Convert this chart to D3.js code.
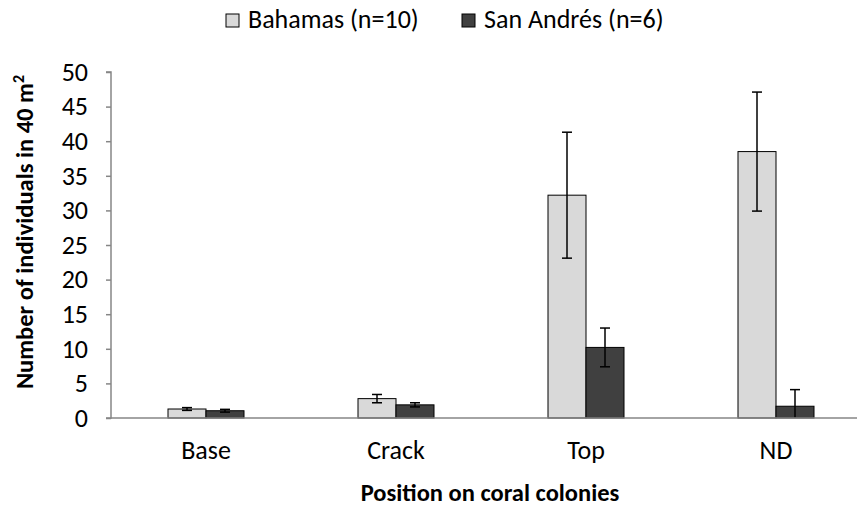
<!DOCTYPE html>
<html>
<head>
<meta charset="utf-8">
<script src="https://cdn.jsdelivr.net/npm/d3@7"></script>
<style>
  body { margin: 0; background: #fff; }
  text { font-family: Carlito, "Open Sans", "Liberation Sans", sans-serif; }
</style>
</head>
<body>
<script>
// chart data
const categories = ["Base", "Crack", "Top", "ND"];
const seriesNames = ["Bahamas (n=10)", "San Andrés (n=6)"];
const bahamas = [1.3, 2.8, 32.2, 38.5];
const bahamasErr = [0.2, 0.6, 9.1, 8.6];
const sanAndres = [1.05, 1.9, 10.2, 1.7];
const sanAndresErr = [0.2, 0.3, 2.8, 2.4];
const yTicks = [0, 5, 10, 15, 20, 25, 30, 35, 40, 45, 50];

const colors = ["#d9d9d9", "#404040"];
const font = "Carlito, 'Open Sans', 'Liberation Sans', sans-serif";

const width = 857, height = 508;
const margin = { top: 72, right: 0, bottom: 90, left: 111 };

const svg = d3.select("body")
  .append("svg")
  .attr("width", width)
  .attr("height", height);

const x = d3.scaleBand()
  .domain(categories)
  .range([margin.left, margin.left + 4 * 190])
  .paddingInner(0)
  .paddingOuter(0);

const y = d3.scaleLinear()
  .domain([0, 50])
  .range([418, margin.top]);

const barW = 38;

const rows = categories.map((c, i) => ({
  cat: c,
  vals: [
    { s: 0, v: bahamas[i], e: bahamasErr[i] },
    { s: 1, v: sanAndres[i], e: sanAndresErr[i] }
  ]
}));

// bars
const groups = svg.selectAll("g.cat")
  .data(rows)
  .enter().append("g")
  .attr("class", "cat")
  .attr("transform", d => "translate(" + (x(d.cat) + x.bandwidth() / 2) + ",0)");

groups.selectAll("rect")
  .data(d => d.vals)
  .enter().append("rect")
  .attr("x", d => d.s === 0 ? -barW : 0)
  .attr("width", barW)
  .attr("y", d => y(d.v))
  .attr("height", d => y(0) - y(d.v))
  .attr("fill", d => colors[d.s])
  .attr("stroke", "#000")
  .attr("stroke-width", 1);

// error bars
const err = groups.selectAll("g.err")
  .data(d => d.vals)
  .enter().append("g")
  .attr("class", "err")
  .attr("transform", d => "translate(" + (d.s === 0 ? -barW / 2 : barW / 2) + ",0)");

err.append("line")
  .attr("x1", 0).attr("x2", 0)
  .attr("y1", d => y(d.v + d.e))
  .attr("y2", d => y(Math.max(0, d.v - d.e)))
  .attr("stroke", "#000").attr("stroke-width", 1.5);

err.append("line")
  .attr("x1", -5).attr("x2", 5)
  .attr("y1", d => y(d.v + d.e)).attr("y2", d => y(d.v + d.e))
  .attr("stroke", "#000").attr("stroke-width", 1.5);

err.filter(d => d.v - d.e > 0).append("line")
  .attr("x1", -5).attr("x2", 5)
  .attr("y1", d => y(d.v - d.e)).attr("y2", d => y(d.v - d.e))
  .attr("stroke", "#000").attr("stroke-width", 1.5);

// y axis
const yAxis = svg.append("g")
  .attr("transform", "translate(" + margin.left + ",0)")
  .call(d3.axisLeft(y).tickValues(yTicks).tickSize(5).tickPadding(18));
yAxis.select(".domain").attr("stroke", "#868686").attr("stroke-width", 1.5)
  .attr("d", "M-5," + y(50) + "H0V" + y(0) + "H-5");
yAxis.selectAll(".tick line").attr("stroke", "#868686").attr("stroke-width", 1.5);
yAxis.selectAll(".tick text").attr("font-size", 26).attr("fill", "#000")
  .style("font-family", font);

// x axis
const xAxis = svg.append("g")
  .attr("transform", "translate(0," + y(0) + ")")
  .call(d3.axisBottom(x).tickSize(0).tickPadding(23));
xAxis.select(".domain").attr("stroke", "#868686").attr("stroke-width", 1.5)
  .attr("d", "M" + margin.left + ",0H" + width);
xAxis.selectAll(".tick text").attr("font-size", 26).attr("fill", "#000")
  .style("font-family", font);

// axis titles
svg.append("text")
  .attr("x", 490).attr("y", 501)
  .attr("text-anchor", "middle")
  .attr("font-size", 24.5).attr("font-weight", "bold")
  .text("Position on coral colonies");

const yt = svg.append("text")
  .attr("transform", "translate(33,232) rotate(-90)")
  .attr("text-anchor", "middle")
  .attr("font-size", 24.5).attr("font-weight", "bold");
yt.append("tspan").text("Number of individuals in 40 m");
yt.append("tspan").attr("dy", -9).attr("font-size", 16).text("2");

// legend
const legendX = [226, 462];
const legend = svg.selectAll("g.leg")
  .data(seriesNames)
  .enter().append("g")
  .attr("class", "leg")
  .attr("transform", (d, i) => "translate(" + legendX[i] + ",14)");
legend.append("rect")
  .attr("width", 13).attr("height", 13)
  .attr("fill", (d, i) => colors[i])
  .attr("stroke", "#000").attr("stroke-width", 1);
legend.append("text")
  .attr("x", 22).attr("y", 14)
  .attr("font-size", 26)
  .text(d => d);
</script>
</body>
</html>
